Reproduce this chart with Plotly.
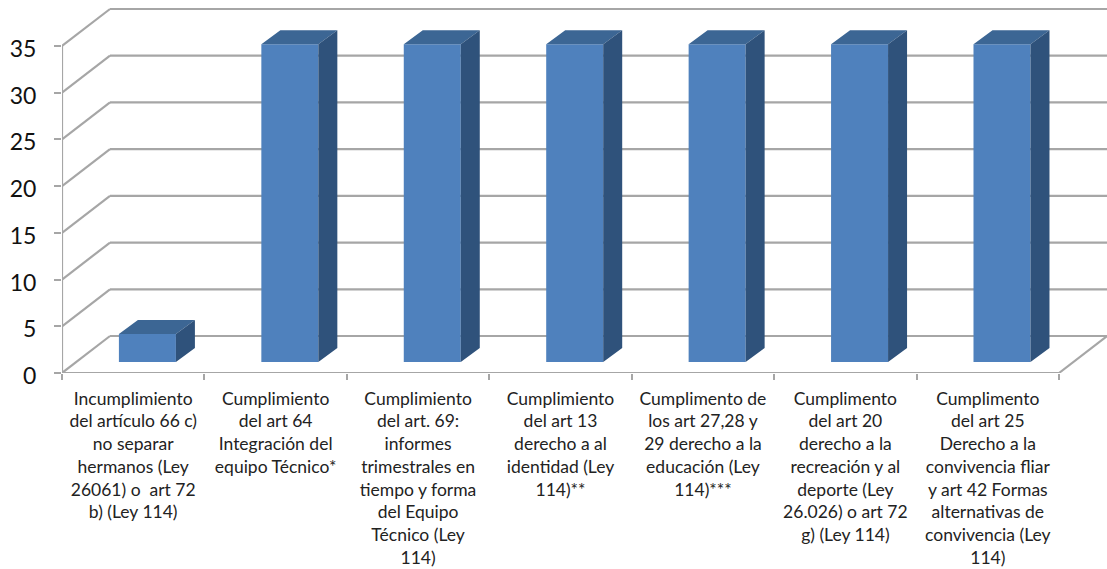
import plotly.graph_objects as go

categories = [
    "Incumplimiento<br>del artículo 66 c)<br>no separar<br>hermanos (Ley<br>26061) o  art 72<br>b) (Ley 114)",
    "Cumplimiento<br>del art 64<br>Integración del<br>equipo Técnico*",
    "Cumplimiento<br>del art. 69:<br>informes<br>trimestrales en<br>tiempo y forma<br>del Equipo<br>Técnico (Ley<br>114)",
    "Cumplimiento<br>del art 13<br>derecho a al<br>identidad (Ley<br>114)**",
    "Cumplimento de<br>los art 27,28 y<br>29 derecho a la<br>educación (Ley<br>114)***",
    "Cumplimento<br>del art 20<br>derecho a la<br>recreación y al<br>deporte (Ley<br>26.026) o art 72<br>g) (Ley 114)",
    "Cumplimento<br>del art 25<br>Derecho a la<br>convivencia fliar<br>y art 42 Formas<br>alternativas de<br>convivencia (Ley<br>114)",
]
values = [3, 34, 34, 34, 34, 34, 34]
y_ticks = [0, 5, 10, 15, 20, 25, 30, 35]

W, H = 1107, 569
L, X_END, Y0, Y35 = 62, 1059, 373, 46
cat_px = (X_END - L) / len(categories)
unit_px = (Y0 - Y35) / 35
WALL_DX, WALL_DY = 48 / cat_px, 37 / unit_px
BAR_DX, BAR_DY = 19 / cat_px, 14 / unit_px
BAR_W = 57 / cat_px
BAR_SHIFT, BAR_BASE = 14.2 / cat_px, 11 / unit_px
GRID = "#a6a6a6"
FRONT, TOP, SIDE = "#4f81bd", "#3c6694", "#2f527b"

x_min = -0.5
x_max = x_min + (W - L) / cat_px
x_end = x_min + len(categories)
y_max = Y0 / unit_px

fig = go.Figure()
xc = [i + BAR_SHIFT for i in range(len(values))]
fig.add_trace(go.Bar(x=xc, y=values, base=[BAR_BASE] * len(values), width=BAR_W,
                     marker=dict(color=FRONT, line=dict(width=0)), hoverinfo="skip"))

top_x, top_y, side_x, side_y = [], [], [], []
for c, v in zip(xc, values):
    a, b, t, f = c - BAR_W / 2, c + BAR_W / 2, BAR_BASE + v, BAR_BASE
    top_x += [a, b, b + BAR_DX, a + BAR_DX, a, None]
    top_y += [t, t, t + BAR_DY, t + BAR_DY, t, None]
    side_x += [b, b + BAR_DX, b + BAR_DX, b, b, None]
    side_y += [f, f + BAR_DY, t + BAR_DY, t, f, None]
fig.add_trace(go.Scatter(x=top_x, y=top_y, fill="toself", fillcolor=TOP, mode="none", hoverinfo="skip"))
fig.add_trace(go.Scatter(x=side_x, y=side_y, fill="toself", fillcolor=SIDE, mode="none", hoverinfo="skip"))

def seg(x0, y0, x1, y1):
    fig.add_shape(type="line", xref="x", yref="y", x0=x0, y0=y0, x1=x1, y1=y1,
                  layer="below", line=dict(color=GRID, width=2.2))

for t in y_ticks:
    seg(x_min, t, x_min + WALL_DX, t + WALL_DY)
    seg(x_min + WALL_DX, t + WALL_DY, x_max, t + WALL_DY)
seg(x_min, 0, x_min, 35)
seg(x_min, 0, x_end, 0)
seg(x_end, 0, x_end + WALL_DX, WALL_DY)

fig.update_layout(
    width=W, height=H, showlegend=False, plot_bgcolor="white", paper_bgcolor="white",
    margin=dict(l=L, r=0, t=0, b=H - Y0), font=dict(family="Lato", color="#111111"),
    xaxis=dict(range=[x_min, x_max], tickmode="array", tickvals=list(range(len(categories))),
               ticktext=categories, ticks="", showgrid=False, zeroline=False,
               tickangle=0, tickfont=dict(size=17.5, family="Lato", color="#222222"),
               ticklabelstandoff=13,
               minor=dict(tickmode="array", tickvals=[i - 0.5 for i in range(len(categories) + 1)],
                          ticks="outside", ticklen=6, tickcolor=GRID, tickwidth=2, showgrid=False)),
    yaxis=dict(range=[0, y_max], tickmode="array", tickvals=y_ticks, ticks="outside", ticklen=7,
               tickcolor=GRID, tickwidth=2, showgrid=False, zeroline=False,
               tickfont=dict(size=23, family="Lato", color="#111111"), ticklabelstandoff=13,
               ticklabelshift=3),
)
fig.write_html("out.html", config={"displayModeBar": False},
               post_script="document.body.style.margin='0';")
